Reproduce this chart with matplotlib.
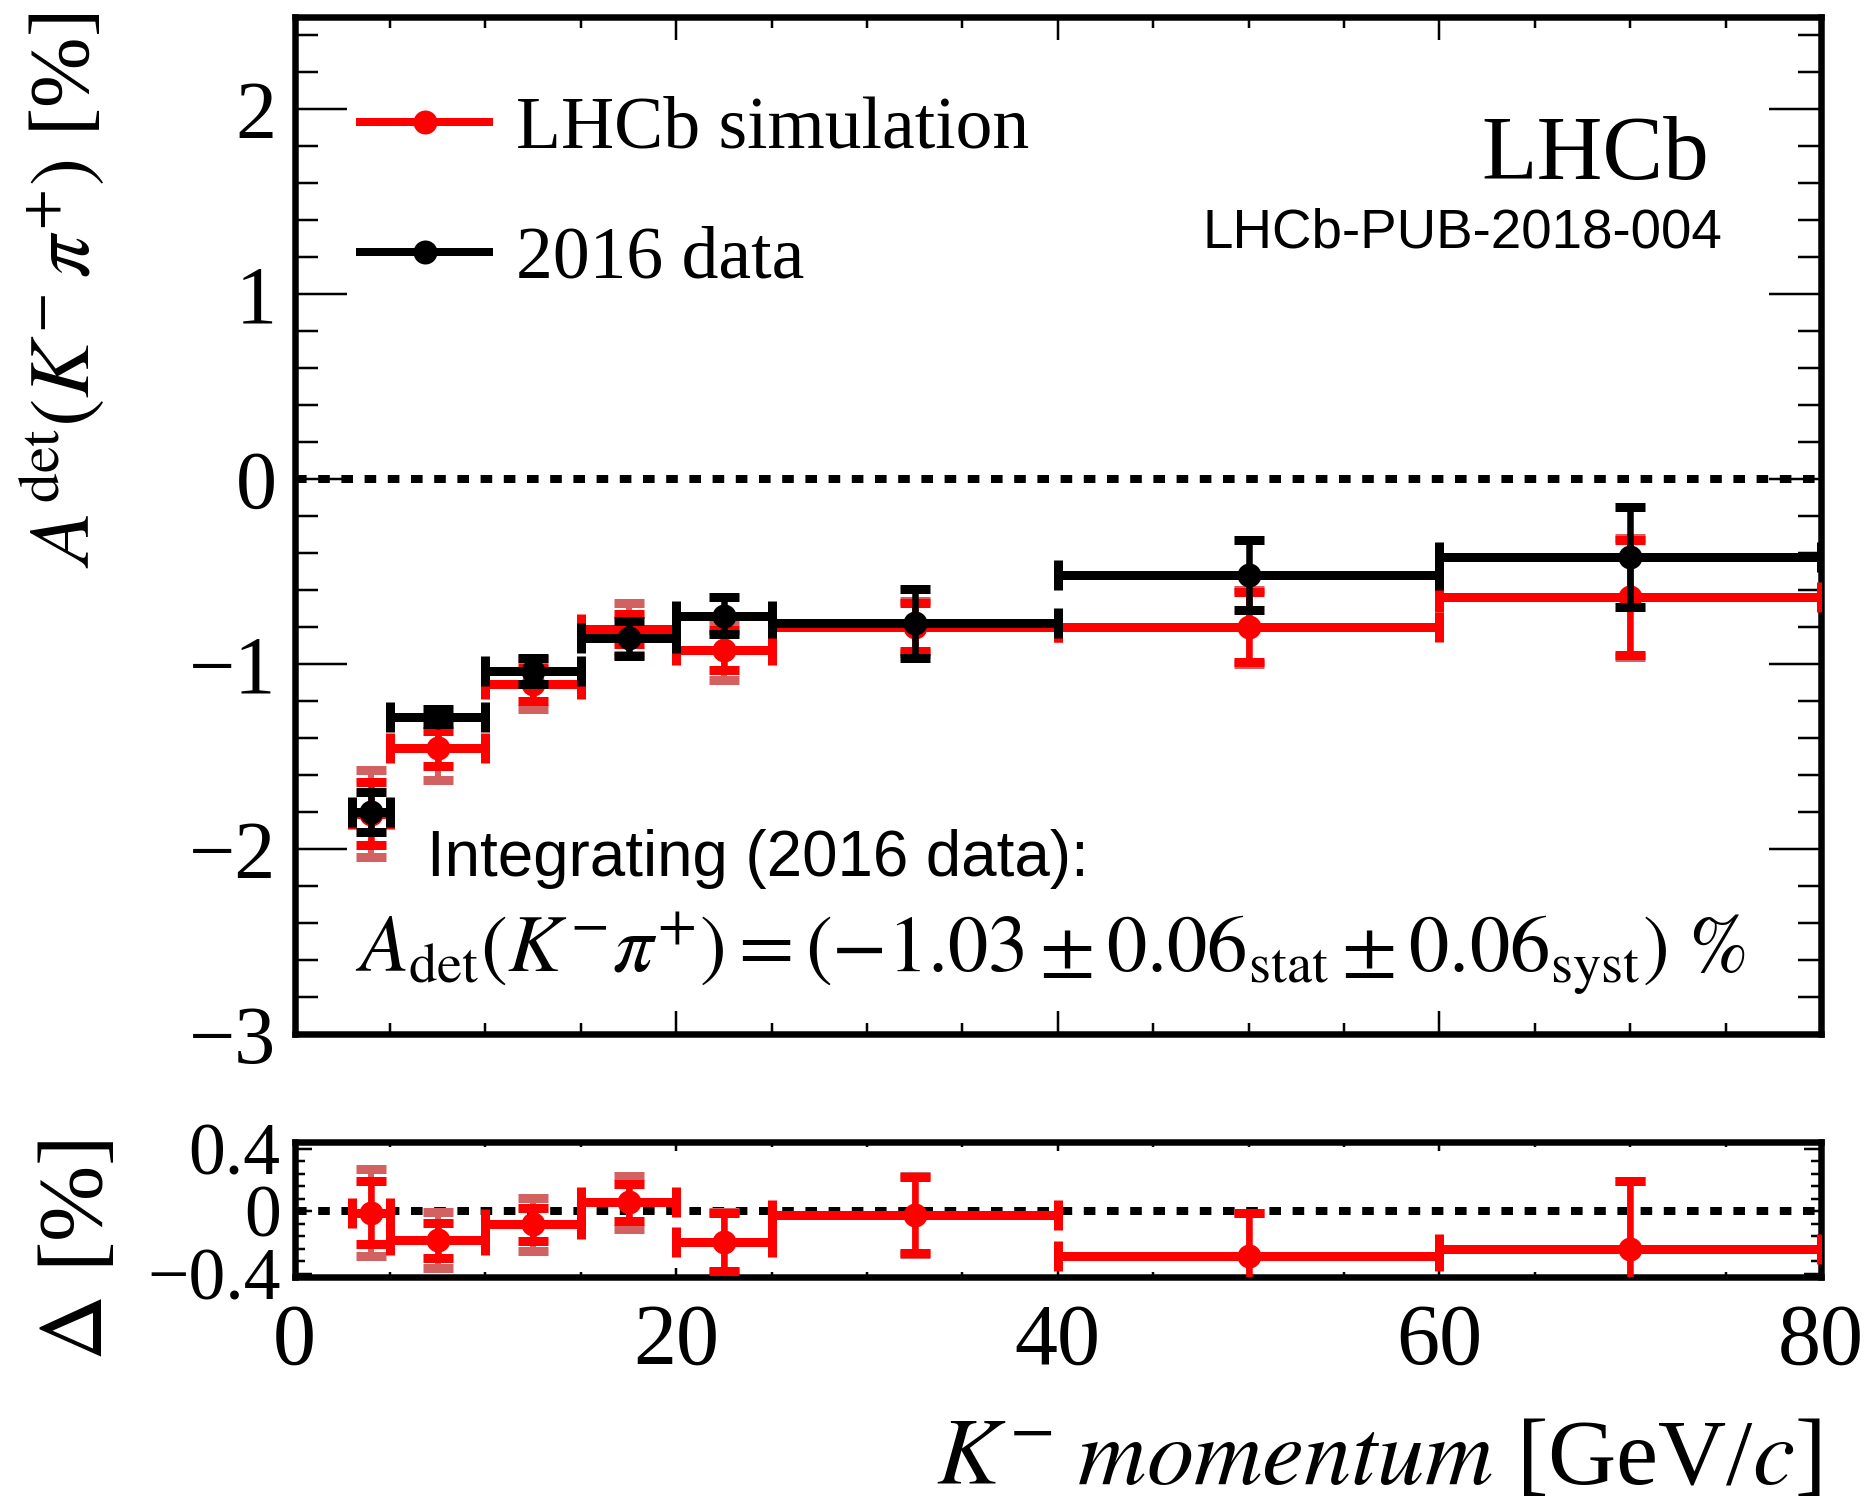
import numpy as np
import matplotlib
matplotlib.use("Agg")
import matplotlib.pyplot as plt
from matplotlib.lines import Line2D
from matplotlib.ticker import MultipleLocator

plt.rcParams['font.family'] = ['Liberation Serif', 'DejaVu Serif']
plt.rcParams['mathtext.fontset'] = 'stix'

# ---- data: K- momentum bins [GeV/c] ----
bin_edges = [3, 5, 10, 15, 20, 25, 40, 60, 80]

# 2016 data, A_det [%]
data_val = [-1.80, -1.285, -1.04, -0.86, -0.74, -0.78, -0.52, -0.42]
data_err = [0.11, 0.04, 0.07, 0.095, 0.10, 0.185, 0.19, 0.27]

# LHCb simulation, A_det [%] with statistical and total uncertainty
sim_val = [-1.81, -1.456, -1.11, -0.81, -0.925, -0.80, -0.80, -0.64]
sim_stat = [0.17, 0.095, 0.09, 0.08, 0.11, 0.13, 0.19, 0.31]
sim_tot = [0.235, 0.17, 0.135, 0.14, 0.16, 0.14, 0.20, 0.32]

# Difference simulation - data [%]
delta_val = [-0.01, -0.187, -0.085, 0.057, -0.198, -0.023, -0.29, -0.245]
delta_stat = [0.20, 0.11, 0.106, 0.117, 0.185, 0.245, 0.28, 0.44]
delta_tot = [0.277, 0.18, 0.17, 0.17, 0.195, 0.25, 0.28, 0.44]

legend_labels = ['LHCb simulation', '2016 data']
delta_ticks = [-0.4, 0.0, 0.4]
delta_ticklabels = ['\u22120.4', '0', '0.4']

edges = np.asarray(bin_edges, dtype=float)
centers = 0.5 * (edges[1:] + edges[:-1])
half_w = 0.5 * (edges[1:] - edges[:-1])

RED = '#ff0000'
LIGHT_RED = '#d26262'
DPI = 100
PX = 72.0 / DPI  # points per pixel


def draw_points(ax, y, yerr, color, z, yerr_outer=None):
    kw = dict(fmt='none', capsize=15 * PX, capthick=9 * PX)
    if yerr_outer is not None:
        ax.errorbar(centers, y, yerr=yerr_outer, ecolor=LIGHT_RED,
                    elinewidth=6 * PX, zorder=z - 0.5, **kw)
    ax.errorbar(centers, y, xerr=half_w, ecolor=color,
                elinewidth=9 * PX, zorder=z, **kw)
    ax.errorbar(centers, y, yerr=yerr, ecolor=color,
                elinewidth=6.5 * PX, zorder=z, **kw)
    ax.plot(centers, y, 'o', color=color, ms=24 * PX, mew=0, zorder=z + 0.1)


fig = plt.figure(figsize=(18.7, 15.07), dpi=DPI)
W, H = 1870.0, 1507.0
x0, x1 = 294.6, 1821.0
ax = fig.add_axes([x0 / W, 1 - 1034.0 / H, (x1 - x0) / W, (1034.0 - 16.5) / H])
axr = fig.add_axes([x0 / W, 1 - 1276.7 / H, (x1 - x0) / W, (1276.7 - 1141.7) / H])

for a in (ax, axr):
    a.set_xlim(0, 80)
    for s in a.spines.values():
        s.set_linewidth(6.5 * PX)
    a.axhline(0, color='black', lw=8 * PX, ls=(0, (1.45, 1.45)), zorder=1)
    a.xaxis.set_major_locator(MultipleLocator(20))
    a.xaxis.set_minor_locator(MultipleLocator(5))

# ---- main panel ----
ax.set_ylim(-3, 2.5)
ax.yaxis.set_major_locator(MultipleLocator(1))
ax.yaxis.set_minor_locator(MultipleLocator(0.2))
draw_points(ax, sim_val, sim_stat, RED, 3, yerr_outer=sim_tot)
draw_points(ax, data_val, data_err, 'black', 5)

ax.tick_params(axis='both', which='both', direction='in', top=True, right=True,
               width=2.5 * PX, labelbottom=False)
ax.tick_params(axis='y', which='major', length=52 * PX, labelsize=59, pad=18 * PX)
ax.tick_params(axis='y', which='minor', length=23 * PX)
ax.tick_params(axis='x', which='major', length=23 * PX)
ax.tick_params(axis='x', which='minor', length=11 * PX)

ax.set_ylabel(r'$A^{\rm det}(K^{-}\,\pi^{+})$ [%]', fontsize=61, loc='top', va='center')
ax.yaxis.set_label_coords(-0.1525, 1.004)

handles = [Line2D([], [], color=RED, lw=8 * PX, marker='o', ms=24 * PX, mew=0),
           Line2D([], [], color='black', lw=8 * PX, marker='o', ms=24 * PX, mew=0)]
ax.legend(handles, legend_labels, loc='upper left', bbox_to_anchor=(0.0428, 0.922),
          frameon=False, fontsize=53, handlelength=1.76, handletextpad=0.36,
          labelspacing=0.85, borderaxespad=0, borderpad=0)

ax.text(0.9266, 0.8403, 'LHCb', transform=ax.transAxes, ha='right', va='baseline',
        fontsize=65.5)
ax.text(0.9352, 0.7725, 'LHCb-PUB-2018-004', transform=ax.transAxes, ha='right',
        va='baseline', fontsize=39.4, family='Liberation Sans')
ax.text(0.0867, 0.1548, 'Integrating (2016 data):', transform=ax.transAxes,
        ha='left', va='baseline', fontsize=45.8, family='Liberation Sans')
ax.text(0.0396, 0.0609,
        r'$A_{\rm det}(K^{-}\pi^{+}) = (-1.03 \pm 0.06_{\rm stat} \pm 0.06_{\rm syst})\ \%$',
        transform=ax.transAxes, ha='left', va='baseline', fontsize=58)

# ---- difference panel ----
axr.set_ylim(-0.42, 0.445)
axr.set_yticks(delta_ticks)
axr.set_yticklabels(delta_ticklabels)
axr.yaxis.set_minor_locator(MultipleLocator(0.08))
draw_points(axr, delta_val, delta_stat, RED, 3, yerr_outer=delta_tot)

axr.tick_params(axis='both', which='both', direction='in', top=True, right=True,
                width=2.5 * PX)
axr.tick_params(axis='y', which='major', length=17 * PX, labelsize=53, pad=14 * PX)
axr.tick_params(axis='y', which='minor', length=10 * PX)
axr.tick_params(axis='x', which='major', length=9 * PX, labelsize=62, pad=26 * PX)
axr.tick_params(axis='x', which='minor', length=5 * PX)

axr.set_ylabel(r'$\mathit{\Delta}$ [%]', fontsize=66, loc='top', va='center')
axr.yaxis.set_label_coords(-0.141, 1.02)
axr.set_xlabel(r'$K^{-}\;momentum$ [GeV/$c$]', fontsize=68, loc='right', va='center')
axr.xaxis.set_label_coords(1.0, -1.37)

fig.savefig('out.png', dpi=DPI)
